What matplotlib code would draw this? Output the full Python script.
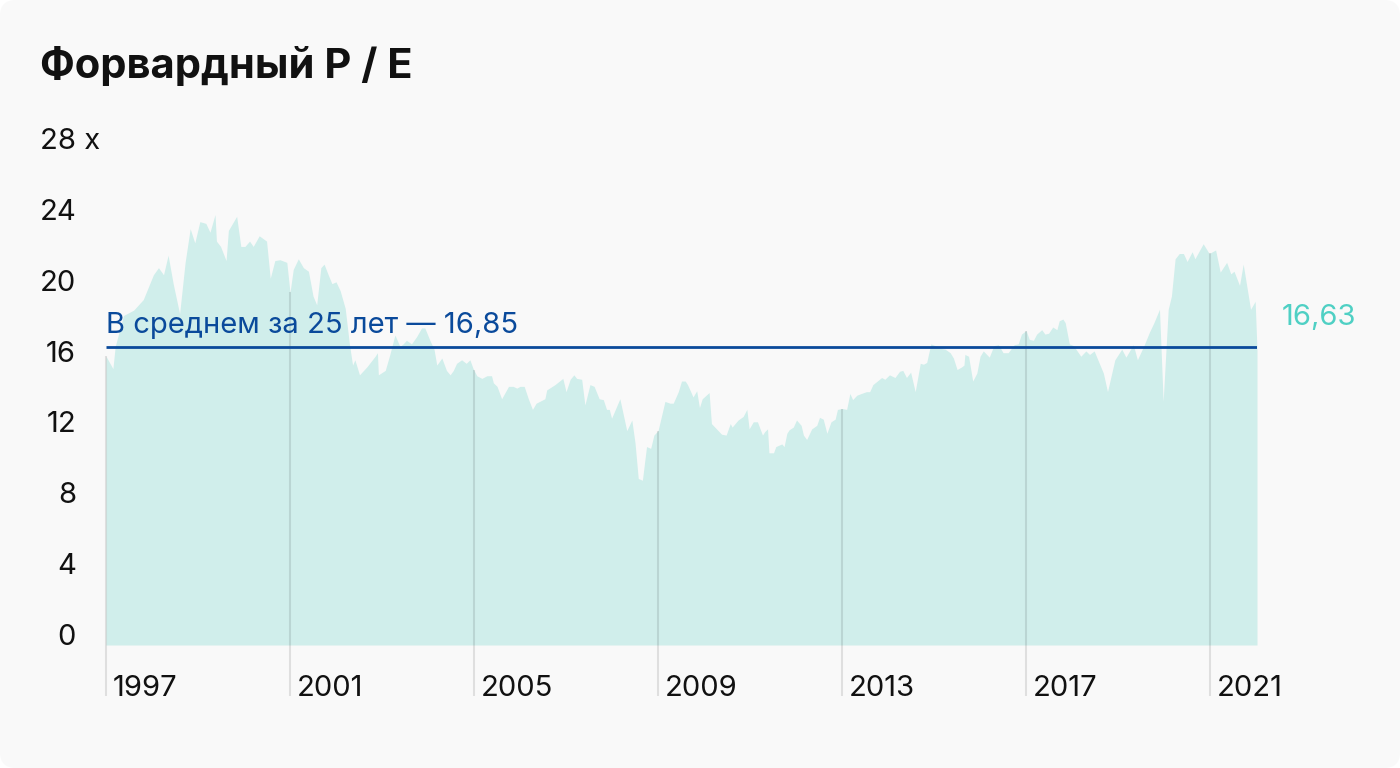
import numpy as np
import matplotlib
matplotlib.use("Agg")
import matplotlib.pyplot as plt
from matplotlib.patches import FancyBboxPatch
from matplotlib.transforms import blended_transform_factory

plt.rcParams['font.family'] = ['Inter', 'DejaVu Sans']

# Данные: форвардный P/E
dates = [1997.00, 1997.15, 1997.20, 1997.38, 1997.60, 1997.81, 1998.03, 1998.14, 1998.25, 1998.35,
         1998.46, 1998.60, 1998.72, 1998.83, 1998.93, 1999.04, 1999.17, 1999.26, 1999.37, 1999.40,
         1999.49, 1999.61, 1999.66, 1999.84, 1999.93, 2000.02, 2000.12, 2000.20, 2000.33, 2000.49,
         2000.57, 2000.67, 2000.78, 2000.93, 2001.00, 2001.07, 2001.18, 2001.29, 2001.40, 2001.50,
         2001.58, 2001.67, 2001.74, 2001.83, 2001.91, 2002.00, 2002.09, 2002.20, 2002.29, 2002.36,
         2002.41, 2002.51, 2002.67, 2002.85, 2002.90, 2002.92, 2003.07, 2003.17, 2003.28, 2003.39,
         2003.46, 2003.53, 2003.64, 2003.75, 2003.86, 2003.93, 2004.04, 2004.13, 2004.19, 2004.30,
         2004.40, 2004.48, 2004.55, 2004.62, 2004.73, 2004.83, 2004.91, 2004.98, 2005.06, 2005.17,
         2005.28, 2005.38, 2005.42, 2005.50, 2005.60, 2005.75, 2005.85, 2005.93, 2006.00, 2006.09,
         2006.18, 2006.27, 2006.35, 2006.54, 2006.58, 2006.76, 2006.93, 2007.00, 2007.09, 2007.17,
         2007.23, 2007.34, 2007.41, 2007.52, 2007.61, 2007.72, 2007.81, 2007.88, 2007.94, 2007.99,
         2008.17, 2008.32, 2008.43, 2008.50, 2008.57, 2008.66, 2008.75, 2008.84, 2008.91, 2009.00,
         2009.15, 2009.26, 2009.33, 2009.44, 2009.51, 2009.59, 2009.64, 2009.71, 2009.76, 2009.84,
         2009.90, 2009.96, 2010.11, 2010.16, 2010.27, 2010.38, 2010.48, 2010.57, 2010.61, 2010.74,
         2010.85, 2010.93, 2010.98, 2011.07, 2011.16, 2011.27, 2011.32, 2011.38, 2011.41, 2011.51,
         2011.56, 2011.69, 2011.74, 2011.80, 2011.85, 2011.94, 2012.01, 2012.11, 2012.16, 2012.23,
         2012.34, 2012.45, 2012.51, 2012.59, 2012.67, 2012.76, 2012.85, 2012.90, 2013.00, 2013.10,
         2013.17, 2013.23, 2013.32, 2013.42, 2013.53, 2013.60, 2013.67, 2013.79, 2013.86, 2013.93,
         2014.03, 2014.15, 2014.25, 2014.32, 2014.40, 2014.49, 2014.59, 2014.70, 2014.77, 2014.84,
         2014.93, 2015.02, 2015.13, 2015.24, 2015.35, 2015.42, 2015.50, 2015.60, 2015.65, 2015.67,
         2015.75, 2015.84, 2015.93, 2016.00, 2016.07, 2016.20, 2016.30, 2016.40, 2016.50, 2016.61,
         2016.74, 2016.83, 2016.90, 2017.00, 2017.07, 2017.16, 2017.23, 2017.34, 2017.41, 2017.49,
         2017.58, 2017.67, 2017.72, 2017.80, 2017.85, 2017.94, 2018.03, 2018.19, 2018.30, 2018.38,
         2018.48, 2018.68, 2018.77, 2018.93, 2019.08, 2019.17, 2019.33, 2019.42, 2019.57, 2019.68,
         2019.78, 2019.90, 2019.98, 2020.09, 2020.16, 2020.24, 2020.33, 2020.42, 2020.50, 2020.61,
         2020.67, 2020.85, 2020.98, 2021.12, 2021.22, 2021.36, 2021.45, 2021.52, 2021.64, 2021.72,
         2021.88, 2021.98, 2022.02]

pe = [16.3, 15.6, 16.85, 18.6, 18.9, 19.5, 20.9, 21.3, 20.9, 22.0,
      20.4, 18.7, 21.6, 23.5, 22.7, 23.9, 23.8, 23.3, 24.3, 22.8,
      22.5, 21.7, 23.4, 24.2, 22.5, 22.5, 22.8, 22.5, 23.1, 22.8,
      20.7, 21.7, 21.75, 21.6, 19.9, 21.2, 21.8, 21.3, 21.1, 19.7,
      19.2, 21.3, 21.5, 20.9, 20.4, 20.5, 20.0, 19.0, 17.0, 15.8,
      16.1, 15.25, 15.7, 16.3, 16.5, 15.25, 15.5, 16.4, 17.5, 16.85,
      17.0, 17.2, 17.0, 17.4, 17.9, 17.9, 17.2, 16.7, 15.8, 16.2,
      15.5, 15.25, 15.5, 15.9, 16.1, 15.9, 16.1, 15.6, 15.2, 15.05,
      15.2, 15.2, 14.8, 14.6, 13.9, 14.6, 14.6, 14.5, 14.6, 14.6,
      13.9, 13.3, 13.65, 13.9, 14.4, 14.7, 15.05, 14.3, 15.0, 15.25,
      15.05, 15.0, 13.55, 14.7, 14.6, 13.9, 13.85, 13.3, 13.3, 12.8,
      13.9, 12.1, 12.7, 11.4, 9.4, 9.3, 11.2, 11.1, 11.85, 12.1,
      13.75, 13.65, 13.65, 14.3, 14.9, 14.9, 14.7, 14.3, 14.0, 14.35,
      13.4, 13.9, 14.25, 12.5, 12.2, 11.9, 11.85, 12.5, 12.3, 12.7,
      12.9, 13.3, 12.2, 12.6, 12.6, 11.85, 12.05, 12.2, 10.85, 10.85,
      11.2, 11.35, 11.2, 11.95, 12.15, 12.3, 12.7, 12.4, 11.85, 11.6,
      12.2, 12.4, 12.85, 12.75, 11.95, 12.6, 12.75, 13.3, 13.35, 13.3,
      14.2, 13.85, 14.1, 14.2, 14.3, 14.3, 14.7, 14.95, 15.1, 15.0,
      15.25, 15.1, 15.45, 15.5, 15.1, 15.4, 14.3, 15.9, 15.85, 15.95,
      17.0, 16.9, 16.75, 16.7, 16.5, 16.2, 15.55, 15.7, 15.8, 16.4,
      16.3, 14.9, 15.35, 16.3, 16.6, 16.25, 16.9, 16.95, 16.5, 16.5,
      16.95, 17.0, 17.55, 17.75, 17.25, 17.2, 17.55, 17.8, 17.55, 17.6,
      17.95, 17.8, 18.3, 18.4, 18.2, 17.0, 16.9, 16.3, 16.6, 16.4,
      16.6, 15.35, 14.3, 16.1, 16.7, 16.25, 16.95, 16.1, 16.95, 17.65,
      18.2, 18.95, 13.75, 18.95, 19.7, 21.8, 22.1, 22.1, 21.65, 22.2,
      21.8, 22.65, 22.1, 22.3, 21.05, 21.6, 20.95, 21.1, 20.3, 21.5,
      18.95, 19.4, 16.63]

mean_pe = 16.85
last_label = "16,63"
year_ticks = [1997, 2001, 2005, 2009, 2013, 2017, 2021]
y_ticks = [0, 4, 8, 12, 16, 20, 24, 28]
y_labels = ["0", "4", "8", "12", "16", "20", "24", "28 x"]

W, H = 1400, 768
fs = 21
fig = plt.figure(figsize=(W / 100, H / 100), dpi=100)
fig.patch.set_facecolor("white")
bg = FancyBboxPatch((0, 0), W / 100, H / 100, boxstyle="round,pad=0,rounding_size=0.16",
                    transform=fig.dpi_scale_trans, facecolor="#f9f9f9", edgecolor="none", zorder=-10)
fig.patches.append(bg)

# оси: 1997 -> 106 px, 0 -> 645 px, 28 -> 149 px
ax = fig.add_axes([106 / W, (H - 645) / H, (1257 - 106) / W, (645 - 149) / H])
ax.set_zorder(1)
ax.set_xlim(1997, 2022.02)
ax.set_ylim(0, 28)
ax.axis("off")

ax.fill_between(dates, pe, 0, color="#d0eeeb", linewidth=0, zorder=1)

# вертикальные линии сетки от подписи до значения
y_bottom = -(696 - 645) / ((645 - 149) / 28)
for yr in year_ticks:
    top = np.interp(yr, dates, pe)
    ax.vlines(yr, y_bottom, top, color="black", alpha=0.1, linewidth=1.5, clip_on=False, zorder=2)
    ax.text(yr + 7 / 46, y_bottom, str(yr), ha="left", va="baseline", fontsize=fs,
            color="#111111", clip_on=False)

# средняя линия
ax.hlines(mean_pe, 1997, 2022.02, color="#0a4a9b", linewidth=2, zorder=3)
ax.text(1997, 17.62, "В среднем за 25 лет — 16,85", ha="left", va="baseline",
        fontsize=fs, color="#0a4a9b", zorder=4)
ax.text(1997 + (1282 - 106) / 46, 18.05, last_label, ha="left", va="baseline",
        fontsize=fs, color="#4fd0c4", clip_on=False)

# подписи оси Y
tr = blended_transform_factory(fig.transFigure, ax.transData)
for v, lab in zip(y_ticks, y_labels):
    if lab.endswith("x"):
        ax.text(40 / W, v, lab, ha="left", va="baseline", fontsize=fs, color="#111111",
                transform=tr, clip_on=False)
    else:
        ax.text(76 / W, v, lab, ha="right", va="baseline", fontsize=fs, color="#111111",
                transform=tr, clip_on=False)

fig.text(40 / W, 1 - 66 / H, "Форвардный P / E", ha="left", va="center",
         fontsize=30, fontweight="bold", color="#111111")

fig.savefig("out.png", dpi=100)
